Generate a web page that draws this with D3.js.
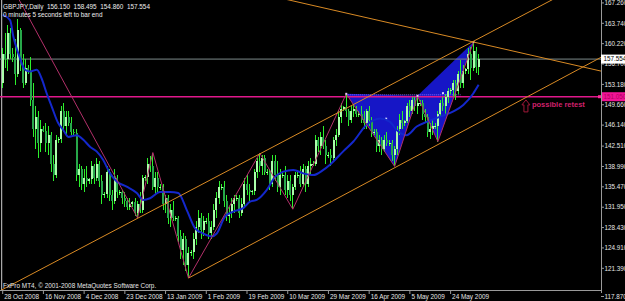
<!DOCTYPE html>
<html>
<head>
<meta charset="utf-8">
<script src="https://cdn.jsdelivr.net/npm/d3@7/dist/d3.min.js"></script>
<style>
body { margin: 0; background: #000; }
svg { display: block; font-family: "Liberation Sans", Arial, sans-serif; }
</style>
</head>
<body>
<svg id="chart" width="625" height="301"></svg>
<script>

// GBPJPY daily bars, 28 Oct 2008 .. 5 Jun 2009 (broker shows sunday bars)
var barOpen = [
153.5,158.5,157.5,162.0,158.5,158.0,155.0,162.5,156.5,153.5,156.0,155.5,150.5,145.5,147.5,143.0,145.5,145.2,143.0,144.5,
139.5,137.5,143.5,143.8,148.5,146.0,147.5,146.5,145.0,144.8,137.5,138.5,136.0,137.0,136.5,136.8,139.0,137.0,139.5,136.5,
134.0,134.2,138.0,134.0,133.0,137.0,134.5,134.5,133.5,133.0,132.0,132.5,132.8,131.0,132.5,131.5,137.0,137.2,139.5,139.0,
135.5,137.0,135.5,135.5,132.5,133.5,130.0,131.5,130.0,130.0,127.0,124.5,126.5,122.0,124.0,124.2,126.5,128.5,130.0,128.0,
129.5,129.5,127.5,128.5,131.5,133.5,135.5,135.5,133.0,130.5,131.0,132.5,133.5,133.5,131.0,132.5,136.0,135.0,134.5,134.8,
138.0,140.0,139.0,140.5,138.0,138.0,136.0,140.0,137.5,135.5,137.5,137.5,135.0,136.5,134.0,135.5,137.5,137.5,136.0,138.5,
136.0,139.0,139.5,139.5,143.5,142.5,144.0,142.5,141.0,141.0,140.5,143.5,144.5,147.5,149.0,149.2,148.5,147.0,148.5,149.0,
148.0,148.0,147.0,146.5,148.5,147.0,145.0,145.0,142.5,143.5,142.0,143.5,143.0,143.0,141.0,142.0,145.5,147.0,146.5,146.8,
149.5,148.5,150.5,149.5,150.0,150.0,148.0,147.5,145.0,145.5,146.0,146.0,148.0,150.0,149.5,151.0,152.0,152.2,153.5,152.0,
155.0,153.5,155.5,155.8,158.5,156.0,159.0,156.15];
var barHigh = [
159.5,162.0,163.5,163.0,159.5,161.0,164.5,163.0,158.5,157.5,156.5,158.0,153.5,149.5,148.5,147.0,146.0,146.5,146.0,145.0,
141.0,144.5,144.0,149.5,150.0,148.5,148.5,147.5,145.5,145.5,139.5,139.0,138.5,139.0,137.0,140.0,139.5,140.5,140.0,137.5,
134.5,139.0,138.5,135.0,138.5,137.5,135.0,135.0,134.5,133.5,133.5,133.0,133.5,133.0,134.5,137.5,137.5,140.5,140.8,141.4,
138.0,138.0,136.0,136.0,134.0,134.0,132.5,133.0,130.5,130.5,128.0,127.5,127.0,125.0,124.5,127.5,129.5,131.5,131.0,130.5,
130.0,131.0,129.5,132.5,134.5,136.5,136.0,136.5,134.0,132.0,133.5,134.0,134.0,134.0,133.5,137.0,137.5,136.0,135.0,138.5,
140.5,141.3,141.0,141.0,138.5,138.5,141.0,141.0,140.0,138.5,138.0,139.0,137.5,137.5,136.0,138.0,138.0,139.0,139.5,139.0,
140.0,140.5,140.0,144.5,144.0,145.0,146.0,143.5,141.5,142.0,144.0,145.5,148.5,150.0,149.5,151.55,149.0,149.5,149.8,149.5,
148.5,149.5,148.5,149.0,149.5,147.5,145.5,145.5,144.5,144.0,144.5,145.0,143.5,143.5,142.5,146.0,148.0,148.5,147.0,150.0,
150.5,151.0,151.0,151.2,150.5,150.5,149.0,148.0,146.5,147.0,146.5,148.5,150.5,151.0,151.5,152.5,152.5,154.0,154.0,155.5,
157.4,156.5,156.0,159.5,159.7,160.5,159.7,158.495];
var barLow = [
152.5,156.0,155.5,157.5,157.0,153.0,154.5,155.5,152.5,153.0,155.0,149.5,144.0,142.0,140.5,141.5,145.0,141.5,141.0,138.0,
136.5,137.0,143.0,143.0,145.0,144.5,146.0,144.5,144.5,136.5,135.5,135.0,134.5,135.5,136.0,136.0,136.0,136.5,135.5,132.5,
133.5,133.5,133.0,131.5,132.5,133.5,134.0,132.5,132.0,131.5,131.5,132.0,130.5,130.1,131.0,131.0,136.5,136.0,138.0,135.0,
134.0,134.5,135.0,131.5,131.0,129.0,128.5,129.5,129.5,126.0,123.0,122.0,121.0,119.7,123.5,123.0,125.5,127.5,126.5,127.0,
129.0,126.5,126.5,128.0,130.0,132.5,135.0,132.0,129.5,129.3,130.0,131.0,133.0,130.0,130.5,132.0,134.0,133.0,134.0,134.0,
137.0,138.0,137.5,137.5,137.5,135.0,135.5,136.5,134.5,134.0,137.0,134.0,133.5,133.0,131.6,135.0,137.0,135.5,135.5,134.5,
135.5,137.5,139.0,139.0,141.5,141.0,142.0,139.5,140.5,139.0,140.0,142.5,144.0,146.5,148.5,147.5,146.0,146.5,147.5,147.5,
147.5,146.5,145.5,145.5,146.0,144.0,144.5,141.5,141.5,141.0,141.5,142.5,142.5,140.0,139.0,141.0,144.5,145.5,146.0,146.5,
147.5,148.0,148.5,148.0,149.5,147.0,146.5,144.0,143.8,144.5,145.5,143.3,147.5,148.5,148.0,150.0,151.5,151.0,150.5,151.5,
152.5,152.5,155.0,155.0,154.0,155.5,155.2,154.86];
var barClose = [
158.5,157.5,162.0,158.5,158.0,155.0,162.5,156.5,153.5,156.0,155.5,150.5,145.5,147.5,143.0,145.5,145.2,143.0,144.5,139.5,
137.5,143.5,143.8,148.5,146.0,147.5,146.5,145.0,144.8,137.5,138.5,136.0,137.0,136.5,136.8,139.0,137.0,139.5,136.5,134.0,
134.2,138.0,134.0,133.0,137.0,134.5,134.5,133.5,133.0,132.0,132.5,132.8,131.0,132.5,131.5,137.0,137.2,139.5,139.0,135.5,
137.0,135.5,135.5,132.5,133.5,130.0,131.5,130.0,130.0,127.0,124.5,126.5,122.0,124.0,124.2,126.5,128.5,130.0,128.0,129.5,
129.5,127.5,128.5,131.5,133.5,135.5,135.5,133.0,130.5,131.0,132.5,133.5,133.5,131.0,132.5,136.0,135.0,134.5,134.8,138.0,
140.0,139.0,140.5,138.0,138.0,136.0,140.0,137.5,135.5,137.5,137.5,135.0,136.5,134.0,135.5,137.5,137.5,136.0,138.5,136.0,
139.0,139.5,139.5,143.5,142.5,144.0,142.5,141.0,141.0,140.5,143.5,144.5,147.5,149.0,149.2,148.5,147.0,148.5,149.0,148.0,
148.0,147.0,146.5,148.5,147.0,145.0,145.0,142.5,143.5,142.0,143.5,143.0,143.0,141.0,142.0,145.5,147.0,146.5,146.8,149.5,
148.5,150.5,149.5,150.0,150.0,148.0,147.5,145.0,145.5,146.0,146.0,148.0,150.0,149.5,151.0,152.0,152.2,153.5,152.0,155.0,
153.5,155.5,155.8,158.5,156.0,159.0,156.2,157.554];

// moving average (bar index, price)
var maBars = [0,2.9,4.2,6.1,8.8,10.7,13.4,15.3,17.3,19.3,21.8,23.8,25.8,29.1,31.7,34.3,36.9,39.5,42.2,44.8,48.7,52.7,55.2,57.9,
61.8,65.7,69,72.3,75.6,78.8,82.1,84.1,87.3,90.6,94.5,97.2,99.8,103.7,107,110.3,114.2,118.1,122,126,128.6,133.8,137.8,143,
148.3,152.2,154.8,158.7,162.7,166.6,171.8,177.1,181,184.9,187];
var maValues = [165.2,164.3,161.4,158.6,155.7,155.4,155.7,154.2,151.6,149.3,146.5,145.3,144.1,144.4,143.6,142.4,141.6,140.1,137.8,136.4,135.5,134.4,133.2,133.5,
134.6,134.6,134.4,131.5,128.3,127.4,126.9,127.4,130.3,131.2,131.8,132.9,133.2,134.9,137.2,138.1,138.4,137.8,137.5,138.4,139.3,141.6,143.3,146.2,
147.3,146.7,145.3,144.4,145.9,146.7,147.6,148.5,149.6,151.6,153.1];

// zigzag swing points
var zigBars = [-6,53,59,73,101,114,135,154,163,171,185];
var zigPrices = [177.9,130.1,141.4,119.7,141.3,131.6,151.55,139.0,151.2,143.3,160.5];

// harmonic pattern X, A, B, C, D
var patternBars = [135,154,163,171,185];
var patternPrices = [151.55,139.0,151.2,143.3,160.5];

// orange trend lines: two anchor points each, ray = extends only to the right
var trendBar1 = [57.9,73,185];
var trendPrice1 = [131.17,119.7,160.5];
var trendBar2 = [156.1,228,228];
var trendPrice2 = [153.94,156.19,156.19];
var trendRay = [false,true,false];

var levelPrice = 151.05;     // pink horizontal line
var lastPrice = 157.554;
var retestBar = 205.6, retestPrice = 150.5;

var dateTicks = [0,16,32,48,64,80,96,112,128,144,160,176];
var dateLabels = ["28 Oct 2008","16 Nov 2008","4 Dec 2008","23 Dec 2008","13 Jan 2009","1 Feb 2009",
  "19 Feb 2009","10 Mar 2009","29 Mar 2009","16 Apr 2009","5 May 2009","24 May 2009"];
var priceLabels = ["167.260","163.740","160.220","156.700","153.180","149.660","146.140","142.510",
  "138.990","135.470","131.950","128.430","124.910","121.390","117.870"];

var plotR = 601, plotB = 290;
var x = d3.scaleLinear().domain([0, 187]).range([2.7, 478.6]);
var y = d3.scaleLinear().domain([121.39, 163.74]).range([268.3, 23.3]);

var svg = d3.select("#chart");
svg.append("rect").attr("width", 625).attr("height", 301).attr("fill", "#000");

svg.append("defs").append("clipPath").attr("id", "plot")
  .append("rect").attr("x", 0).attr("y", 0).attr("width", plotR).attr("height", plotB);
var g = svg.append("g").attr("clip-path", "url(#plot)");

// blue filled triangles of the pattern (background)
var tris = [[0,1,2],[2,3,4]];
tris.forEach(function(t) {
  var pts = t.map(function(k) { return [x(patternBars[k]), y(patternPrices[k])]; });
  g.append("polygon").attr("points", pts.join(" ")).attr("fill", "#1616c6");
  var cx = d3.mean(pts, function(p) { return p[0]; }), cy = d3.mean(pts, function(p) { return p[1]; });
  g.append("rect").attr("x", cx - 1).attr("y", cy - 1).attr("width", 2).attr("height", 2).attr("fill", "#d8d8ff");
});
g.append("line")
  .attr("x1", x(patternBars[0])).attr("y1", y(patternPrices[0]) + 1)
  .attr("x2", x(180)).attr("y2", y(patternPrices[0]) + 1)
  .attr("stroke", "#8a6cff").attr("stroke-dasharray", "1,1");

// white vertical line at the left edge
g.append("line").attr("x1", x(0) - 1).attr("x2", x(0) - 1).attr("y1", 0).attr("y2", plotB)
  .attr("stroke", "#cfcfcf").attr("stroke-width", 1);

// grey bid line and pink level
g.append("line").attr("x1", 0).attr("x2", plotR).attr("y1", y(lastPrice)).attr("y2", y(lastPrice))
  .attr("stroke", "#7d8b8b");
g.append("line").attr("x1", 0).attr("x2", plotR).attr("y1", y(levelPrice)).attr("y2", y(levelPrice))
  .attr("stroke", "#e0188c").attr("stroke-width", 1.5);

// candles
var bars = d3.range(barClose.length).map(function(i) {
  return { i: i, o: barOpen[i], h: barHigh[i], l: barLow[i], c: barClose[i] };
});
var cg = g.append("g").attr("shape-rendering", "crispEdges");
cg.selectAll(".wick").data(bars).enter().append("rect")
  .attr("x", function(d) { return x(d.i) - 0.5; })
  .attr("y", function(d) { return y(d.h); })
  .attr("width", 1)
  .attr("height", function(d) { return Math.max(1, y(d.l) - y(d.h)); })
  .attr("fill", "#2cf02c");
cg.selectAll(".body").data(bars).enter().append("rect")
  .attr("x", function(d) { return x(d.i) - 1; })
  .attr("y", function(d) { return y(Math.max(d.o, d.c)); })
  .attr("width", 2)
  .attr("height", function(d) { return Math.max(1, Math.abs(y(d.o) - y(d.c))); })
  .attr("fill", function(d) { return d.c >= d.o ? "#aaffaa" : "#27a84a"; });

// moving average
var ma = d3.line().curve(d3.curveMonotoneX)
  .x(function(d, i) { return x(maBars[i]); })
  .y(function(d) { return y(d); });
g.append("path").attr("d", ma(maValues)).attr("fill", "none")
  .attr("stroke", "#1428cc").attr("stroke-width", 2);

// zigzag
var zz = d3.line().x(function(d, i) { return x(zigBars[i]); }).y(function(d) { return y(d); });
g.append("path").attr("d", zz(zigPrices)).attr("fill", "none")
  .attr("stroke", "#b3306a").attr("stroke-width", 1);
[0,2,4].forEach(function(k) {
  g.append("rect").attr("x", x(patternBars[k]) - 1).attr("y", y(patternPrices[k]) - 1)
    .attr("width", 2).attr("height", 2).attr("fill", "#e8c8f0");
});

// orange channel lines
trendBar1.forEach(function(b, i) {
  var x1 = x(b), y1 = y(trendPrice1[i]), x2 = x(trendBar2[i]), y2 = y(trendPrice2[i]);
  var k = (y2 - y1) / (x2 - x1);
  var xa = trendRay[i] ? x1 : -20, xb = 650;
  g.append("line").attr("x1", xa).attr("y1", y1 + k * (xa - x1))
    .attr("x2", xb).attr("y2", y1 + k * (xb - x1))
    .attr("stroke", "#d98a24").attr("stroke-width", 1);
});

// annotation
var ax = x(retestBar), ay = y(retestPrice);
svg.append("path")
  .attr("d", "M" + ax + "," + ay + "l4,5h-2v7h-4v-7h-2z")
  .attr("fill", "none").attr("stroke", "#a01838").attr("stroke-width", 1);
svg.append("text").attr("x", ax + 6).attr("y", ay + 7.5)
  .attr("font-size", 7.5).attr("font-weight", "bold").attr("fill", "#d0206c")
  .text("possible retest");

// axes frame
svg.append("line").attr("x1", plotR + 0.5).attr("x2", plotR + 0.5).attr("y1", 0).attr("y2", plotB + 3)
  .attr("stroke", "#9a9a9a");
svg.append("line").attr("x1", 0).attr("x2", plotR + 0.5).attr("y1", plotB + 0.5).attr("y2", plotB + 0.5)
  .attr("stroke", "#9a9a9a");

// price scale
priceLabels.forEach(function(s) {
  var yy = y(+s);
  if (yy > plotB - 4) yy = 296.5;
  svg.append("line").attr("x1", plotR).attr("x2", plotR + 3).attr("y1", yy).attr("y2", yy).attr("stroke", "#9a9a9a");
  svg.append("text").attr("x", 604.5).attr("y", yy).attr("dy", "0.35em")
    .attr("font-size", 6.3).attr("fill", "#e6e6e6").text(s);
});

// current price box and level box
svg.append("rect").attr("x", plotR).attr("y", y(lastPrice) - 4.5).attr("width", 24).attr("height", 9).attr("fill", "#fff");
svg.append("text").attr("x", 603.5).attr("y", y(lastPrice)).attr("dy", "0.35em")
  .attr("font-size", 6.3).attr("fill", "#000").text(d3.format(".3f")(lastPrice));
svg.append("rect").attr("x", plotR - 3).attr("y", y(levelPrice) - 1.5).attr("width", 3).attr("height", 3).attr("fill", "#ff2a9a");
svg.append("rect").attr("x", plotR + 1).attr("y", y(levelPrice) - 4.5).attr("width", 24).attr("height", 9).attr("fill", "#f01496");
svg.append("text").attr("x", 603.5).attr("y", y(levelPrice)).attr("dy", "0.35em")
  .attr("font-size", 6.3).attr("fill", "#b00060").text(d3.format(".3f")(levelPrice));

// date scale
dateTicks.forEach(function(b, i) {
  var xx = x(b);
  svg.append("line").attr("x1", xx).attr("x2", xx).attr("y1", plotB).attr("y2", plotB + 4).attr("stroke", "#9a9a9a");
  svg.append("text").attr("x", xx + 1.5).attr("y", 299).attr("font-size", 6.4).attr("fill", "#e6e6e6").text(dateLabels[i]);
});

// header and footer text
svg.append("text").attr("x", 3).attr("y", 9).attr("font-size", 6.4).attr("fill", "#eee")
  .attr("xml:space", "preserve").style("white-space", "pre")
  .text("GBPJPY,Daily  " + [barOpen[187], barHigh[187], barLow[187], barClose[187]].map(d3.format(".3f")).join("  "));
svg.append("text").attr("x", 3).attr("y", 16.5).attr("font-size", 6.4).attr("fill", "#eee")
  .text("0 minutes 5 seconds left to bar end");
svg.append("text").attr("x", 3).attr("y", 287.5).attr("font-size", 6.4).attr("fill", "#e6e6e6")
  .text("FxPro MT4, \u00a9 2001-2008 MetaQuotes Software Corp.");

</script>
</body>
</html>
